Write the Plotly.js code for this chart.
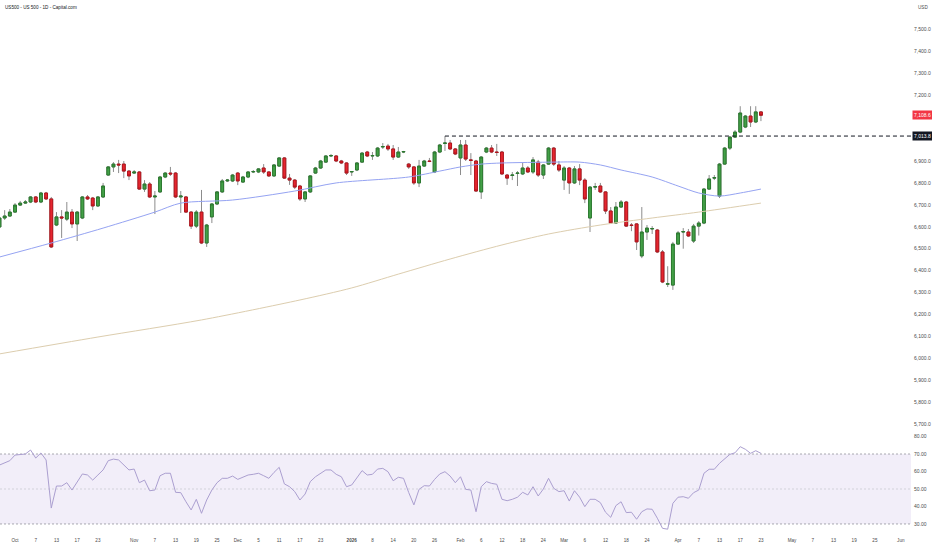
<!DOCTYPE html>
<html><head><meta charset="utf-8">
<script src="https://cdn.plot.ly/plotly-3.0.1.min.js"></script>
<style>html,body{margin:0;padding:0;background:#fff}#chart{width:932px;height:550px}</style>
</head><body><div id="chart"></div>
<script>
// ---- calendar ----
const startDate = '2025-09-26';
const closedDays = ['2025-12-25', '2026-01-01'];

// ---- OHLC (one candle per trading day, starting at startDate) ----
const opens = [6599,6640,6649,6667,6699,6708,6713,6736,6713,6754,6727,6608,6645,6635,6667,6613,6640,6736,6731,6695,
6736,6836,6873,6886,6886,6854,6845,6850,6772,6795,6736,6759,6827,6845,6845,6736,6736,6667,6603,6667,
6526,6645,6704,6759,6809,6809,6845,6804,6827,6850,6850,6868,6850,6832,6877,6914,6822,6813,6786,6727,
6759,6845,6868,6895,6923,6923,6900,6891,6850,6859,6895,6941,6923,6923,6964,6968,6955,6918,6941,6886,
6873,6800,6877,6900,6850,6941,6980,6982,6955,6914,6973,6905,6900,6759,6941,6959,6941,6941,6836,6834,
6843,6841,6868,6850,6895,6836,6886,6959,6882,6813,6868,6800,6864,6813,6640,6781,6786,6759,6672,6617,
6690,6713,6608,6613,6467,6576,6590,6585,6485,6338,6334,6521,6576,6576,6535,6603,6617,6772,6822,6740,
6886,6959,7009,7032,7055,7105,7078,7124];
const highs = [6650,6676,6681,6708,6718,6722,6740,6740,6759,6759,6736,6667,6676,6713,6681,6672,6740,6745,6736,6740,
6800,6877,6895,6905,6900,6859,6859,6854,6813,6804,6763,6832,6850,6873,6850,6763,6740,6672,6676,6768,
6613,6708,6763,6818,6818,6841,6850,6832,6854,6859,6868,6886,6854,6886,6918,6918,6841,6818,6791,6763,
6836,6873,6905,6927,6932,6927,6905,6895,6854,6895,6941,6946,6941,6964,6982,6978,6973,6964,6946,6891,
6877,6905,6905,6914,6946,6978,7013.8,6996,6959,6996,6996,6936,6905,6923,6964,6973,6978,6946,6841,6850,
6854,6891,6877,6918,6905,6886,6964,6964,6900,6877,6873,6877,6886,6822,6786,6800,6800,6763,6690,6713,
6722,6718,6617,6617,6690,6608,6603,6590,6494,6420,6531,6581,6594,6590,6613,6626,6777,6836,6836,6891,
6964,7013,7041,7150,7110,7150,7150,7128];
const lows = [6590,6631,6645,6663,6695,6704,6708,6708,6708,6722,6503,6603,6549,6626,6594,6535,6635,6722,6676,6690,
6731,6832,6850,6845,6822,6813,6841,6768,6759,6731,6658,6754,6822,6832,6731,6663,6663,6590,6594,6521,
6508,6617,6699,6754,6804,6804,6790,6800,6822,6845,6845,6841,6827,6827,6873,6818,6791,6772,6718,6713,
6754,6841,6864,6891,6918,6895,6886,6836,6832,6854,6891,6918,6905,6918,6955,6946,6905,6914,6936,6864,
6791,6781,6873,6895,6845,6936,6946,6950,6927,6836,6900,6836,6759,6727,6936,6936,6923,6836,6791,6813,
6786,6836,6845,6841,6827,6818,6882,6877,6850,6768,6750,6795,6790,6708,6576,6768,6754,6658,6613,6613,
6686,6599,6580,6494,6457,6540,6567,6480,6343,6325,6312,6517,6500,6553,6526,6560,6612,6768,6813,6731,
6882,6950,7005,7027,7050,7055,7073,7082];
const closes = [6640,6649,6667,6699,6708,6713,6736,6713,6754,6727,6508,6645,6640,6667,6613,6667,6736,6727,6695,6736,
6786,6873,6886,6882,6854,6832,6850,6772,6795,6736,6740,6827,6845,6841,6736,6740,6667,6603,6667,6526,
6608,6704,6759,6809,6813,6836,6809,6827,6850,6852,6864,6850,6832,6882,6914,6822,6813,6781,6727,6759,
6832,6868,6900,6923,6925,6900,6891,6845,6852,6891,6936,6923,6925,6959,6966,6955,6918,6941,6943,6873,
6800,6877,6900,6898,6941,6973,6982,6955,6932,6973,6909,6903,6763,6918,6959,6941,6939,6841,6822,6836,
6845,6868,6850,6905,6836,6882,6959,6886,6859,6868,6800,6864,6813,6727,6781,6783,6759,6672,6617,6690,
6713,6603,6606,6531,6576,6594,6592,6485,6348,6340,6521,6572,6578,6558,6603,6617,6772,6818,6824,6886,
6959,7009,7032,7119,7105,7078,7124,7108.6];

// ---- moving averages (candle index, price) ----
const maFastIdx = [0,10,20,30,35,45,57,65,79,85,89,93,97,107,112,116,120,126,131,135,139,143,147];
const maFastVal = [6462,6526,6594,6667,6708,6722,6763,6800,6827,6854,6873,6886,6891,6895,6895,6882,6859,6827,6786,6754,6740,6754,6772];
const maSlowIdx = [0,19,39,58,68,77,87,97,106,116,126,135,147];
const maSlowVal = [6020,6097,6175,6266,6321,6384,6453,6517,6567,6608,6640,6667,6708];

// ---- RSI (one value per candle) ----
const rsi = [63.7,65,66.2,69.4,69.8,70,72.3,67.7,70.6,66.6,39.1,51.7,51.7,53.6,49.4,54.2,58.6,58,55.1,58,
60.9,66.2,67.1,66.6,63.7,60.9,61.4,53.6,55.1,49,49.4,57.6,59,59,48.1,47.9,42.7,38,44.1,36.1,
43.7,49.4,53.6,56.1,56.1,57.4,55.5,56.7,58,58.4,59,57.6,56.1,59.5,62.4,52.9,51.3,48.5,43.7,47.1,
54.2,57,59,60.9,60.9,58.4,57,51.3,52.3,56.7,60.5,58,58.4,61.4,61.8,59.9,54.7,56.7,56.1,48,
40.9,49.8,51.9,51.7,55.5,58.6,59.9,57.4,53.6,57,49.8,49.4,37,51.3,54.2,53.2,52.7,44.1,43.3,44.1,
45.3,48.1,46.6,51.3,46,50,56.1,50.4,48.5,49,43.1,49,45.3,39.9,44.1,44.1,42.2,36.7,33.8,40.5,
42.7,36.5,36.7,32.7,37,38.6,38.4,33.3,27.5,27,41.8,45.3,45.6,44.7,47.9,49.4,59,61.3,61.3,64.7,
67.5,69.8,70.7,74.2,72.7,70.4,71.9,70.4];

// ---- labels ----
const headerText = 'US500 - US 500 - 1D - Capital.com';
const currencyText = 'USD';
const resistanceLevel = 7013.8;
const priceTicks = [5700,5800,5900,6000,6100,6200,6300,6400,6500,6600,6700,6800,6900,7000,7100,7200,7300,7400,7500];
const rsiTicks = [30,40,50,60,70,80];
const tickDates = ['2025-10-01','2025-10-07','2025-10-13','2025-10-17','2025-10-23','2025-11-03','2025-11-07','2025-11-13','2025-11-19','2025-11-25',
'2025-12-01','2025-12-05','2025-12-11','2025-12-17','2025-12-23','2026-01-02','2026-01-08','2026-01-14','2026-01-20','2026-01-26',
'2026-02-02','2026-02-06','2026-02-12','2026-02-18','2026-02-24','2026-03-02','2026-03-06','2026-03-12','2026-03-18','2026-03-24',
'2026-04-01','2026-04-07','2026-04-13','2026-04-17','2026-04-23','2026-05-01','2026-05-07','2026-05-13','2026-05-19','2026-05-25','2026-06-01'];
const tickLabels = ['Oct','7','13','17','23','Nov','7','13','19','25','Dec','5','11','17','23','<b>2026</b>','8','14','20','26',
'Feb','6','12','18','24','Mar','6','12','18','24','Apr','7','13','17','23','May','7','13','19','25','Jun'];

// ---- build ----
function buildTradingDays(start, count, closed) {
  const out = [];
  const d = new Date(start + 'T00:00:00Z');
  while (out.length < count) {
    const wd = d.getUTCDay();
    const s = d.toISOString().slice(0, 10);
    if (wd !== 0 && wd !== 6 && !closed.includes(s)) out.push(s);
    d.setUTCDate(d.getUTCDate() + 1);
  }
  return out;
}
const days = buildTradingDays(startDate, 190, closedDays);
const xs = opens.map((_, i) => i);
const bodyHigh = opens.map((o, i) => Math.max(o, closes[i]));
const bodyLow = opens.map((o, i) => Math.min(o, closes[i]));
const tickIdx = tickDates.map(d => days.indexOf(d));
const resIdx = highs.indexOf(resistanceLevel);
const lastClose = closes[closes.length - 1];
const fmt1 = v => v.toLocaleString('en-US', {minimumFractionDigits: 1, maximumFractionDigits: 1});
// axis labels hidden behind the price tags (as in the reference)
const shownPriceTicks = priceTicks.filter(t => Math.abs(t - lastClose) > 30 && Math.abs(t - resistanceLevel) > 30);

const wickColor = '#8c8c8c';
const traces = [
  {type: 'candlestick', x: xs, open: opens, high: highs, low: lows, close: closes,
   increasing: {line: {color: wickColor, width: 1}, fillcolor: wickColor},
   decreasing: {line: {color: wickColor, width: 1}, fillcolor: wickColor},
   whiskerwidth: 0, hoverinfo: 'skip', showlegend: false, xaxis: 'x', yaxis: 'y'},
  {type: 'candlestick', x: xs, open: opens, high: bodyHigh, low: bodyLow, close: closes,
   text: days.slice(0, opens.length), hoverinfo: 'text',
   increasing: {line: {color: '#2b7a2f', width: 1}, fillcolor: '#43a047'},
   decreasing: {line: {color: '#b3141c', width: 1}, fillcolor: '#e5262f'},
   whiskerwidth: 0, showlegend: false, xaxis: 'x', yaxis: 'y'},
  {type: 'scatter', mode: 'lines', x: maSlowIdx, y: maSlowVal, line: {color: '#dccdae', width: 1, shape: 'spline', smoothing: 0.8},
   hoverinfo: 'skip', showlegend: false, xaxis: 'x', yaxis: 'y'},
  {type: 'scatter', mode: 'lines', x: maFastIdx, y: maFastVal, line: {color: '#95a3f2', width: 1, shape: 'spline', smoothing: 0.8},
   hoverinfo: 'skip', showlegend: false, xaxis: 'x', yaxis: 'y'},
  {type: 'scatter', mode: 'lines', x: xs, y: rsi, line: {color: '#ab9fd0', width: 1},
   hoverinfo: 'skip', showlegend: false, xaxis: 'x', yaxis: 'y2'}
];

const font = 'Liberation Sans, Arial, sans-serif';
const layout = {
  width: 932, height: 550,
  margin: {l: 0, r: 21, t: 0, b: 18},
  paper_bgcolor: '#ffffff', plot_bgcolor: '#ffffff',
  font: {family: font, size: 5, color: '#4a4a4a'},
  showlegend: false,
  boxgap: 0.22,
  xaxis: {anchor: 'y2', range: [0.1, 175.97], showgrid: false, zeroline: false, showline: false,
          ticks: '', tickvals: tickIdx, ticktext: tickLabels, tickfont: {size: 4.6, color: '#4a4a4a'},
          ticklabelstandoff: 4, rangeslider: {visible: false}, fixedrange: true},
  yaxis: {domain: [0.186, 1], anchor: 'x', side: 'right', range: [5659, 7634.5], showgrid: false, zeroline: false,
          showline: false, ticks: '', tickvals: shownPriceTicks, tickformat: ',.1f', tickfont: {size: 5, color: '#4a4a4a'},
          ticklabelstandoff: 2},
  yaxis2: {domain: [0, 0.186], anchor: 'x', side: 'right', range: [25.4, 82], showgrid: false, zeroline: false,
           showline: false, ticks: '', tickvals: rsiTicks, tickformat: '.2f', tickfont: {size: 5, color: '#4a4a4a'},
           ticklabelstandoff: 2},
  shapes: [
    {type: 'rect', xref: 'paper', x0: 0, x1: 1, yref: 'y2', y0: 30, y1: 70, fillcolor: 'rgba(126,87,194,0.1)', line: {width: 0}, layer: 'below'},
    {type: 'line', xref: 'paper', x0: 0, x1: 1, yref: 'y2', y0: 70, y1: 70, line: {color: '#a8a8b0', width: 1, dash: '2px,2px'}, layer: 'below'},
    {type: 'line', xref: 'paper', x0: 0, x1: 1, yref: 'y2', y0: 50, y1: 50, line: {color: '#d2d2da', width: 1, dash: '2px,2px'}, layer: 'below'},
    {type: 'line', xref: 'paper', x0: 0, x1: 1, yref: 'y2', y0: 30, y1: 30, line: {color: '#a8a8b0', width: 1, dash: '2px,2px'}, layer: 'below'},
    {type: 'line', xref: 'x', x0: resIdx, x1: 175.97, yref: 'y', y0: resistanceLevel, y1: resistanceLevel, line: {color: '#131722', width: 1, dash: '4px,3px'}}
  ],
  annotations: [
    {xref: 'paper', yref: 'paper', x: 0, y: 1, xanchor: 'left', yanchor: 'top', xshift: 3, yshift: -3, showarrow: false,
     text: headerText, font: {size: 4.6, color: '#131722'}},
    {xref: 'paper', yref: 'paper', x: 1, y: 1, xanchor: 'left', yanchor: 'top', xshift: 5, yshift: -3, showarrow: false,
     text: currencyText, font: {size: 4.6, color: '#4a4a4a'}},
    {xref: 'paper', yref: 'y', x: 1, y: lastClose, xanchor: 'left', yanchor: 'middle', xshift: 1, showarrow: false,
     text: fmt1(lastClose), font: {size: 5, color: '#ffffff'}, bgcolor: '#f23645', borderpad: 1},
    {xref: 'paper', yref: 'y', x: 1, y: resistanceLevel, xanchor: 'left', yanchor: 'middle', xshift: 1, showarrow: false,
     text: fmt1(resistanceLevel), font: {size: 5, color: '#ffffff'}, bgcolor: '#131722', borderpad: 1}
  ]
};

Plotly.newPlot('chart', traces, layout, {displayModeBar: false, staticPlot: true});
</script>
</body></html>
